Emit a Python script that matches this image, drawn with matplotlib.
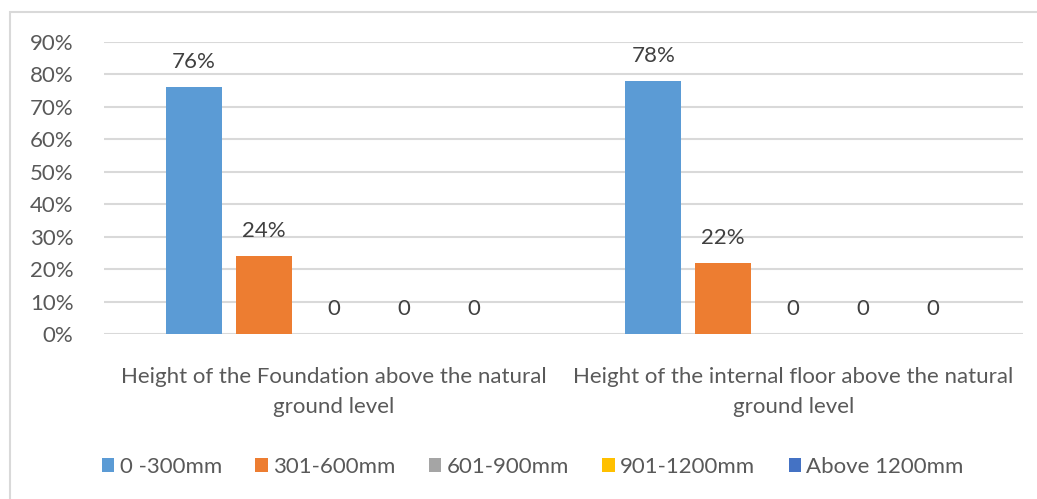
import numpy as np
import matplotlib.pyplot as plt
from matplotlib.patches import Rectangle
from matplotlib.ticker import PercentFormatter

categories = ['Height of the Foundation above the natural\nground level',
              'Height of the internal floor above the natural\nground level']
series = ['0 -300mm', '301-600mm', '601-900mm', '901-1200mm', 'Above 1200mm']
values = [
    [76, 78],
    [24, 22],
    [0, 0],
    [0, 0],
    [0, 0],
]
colors = ['#5B9BD5', '#ED7D31', '#A5A5A5', '#FFC000', '#4472C4']

plt.rcParams['font.family'] = ['Lato', 'DejaVu Sans']
fs = 16

fig = plt.figure(figsize=(10.37, 4.99), dpi=100)
W, H = 1037, 499
ax = fig.add_axes([104 / W, 1 - 334 / H, (1023 - 104) / W, (334 - 42) / H])

# chart border
fig.patches.append(Rectangle((9.5 / W, -0.1), 1.2, 1 - 12 / H + 0.1,
                             transform=fig.transFigure, fill=False,
                             edgecolor='#D9D9D9', linewidth=1.5))

x = np.arange(len(categories))
slot = 70 / 459.5
width = 56 / 459.5

for i, (name, vals) in enumerate(zip(series, values)):
    pos = x + (i - 2) * slot
    ax.bar(pos, vals, width, color=colors[i], label=name, zorder=3)
    for p, v in zip(pos, vals):
        label = '%d%%' % v if v > 0 else '0'
        ax.annotate(label, (p, v), xytext=(0, 18), textcoords='offset points',
                    ha='center', va='center', fontsize=fs, color='#404040')

ax.set_xlim(-0.5, 1.5)
ax.set_ylim(0, 90)
ax.set_yticks(np.arange(0, 91, 10))
ax.yaxis.set_major_formatter(PercentFormatter(decimals=0))
ax.set_xticks(x)
ax.set_xticklabels(categories, fontsize=fs, color='#595959', linespacing=1.6)
ax.tick_params(axis='x', length=0, pad=24)
ax.tick_params(axis='y', length=0, pad=22, labelsize=fs, labelcolor='#595959')
ax.grid(axis='y', color='#D9D9D9', linewidth=1.5, zorder=0)
for s in ax.spines.values():
    s.set_visible(False)

ax.legend(loc='center', bbox_to_anchor=(533 / W, 1 - 467 / H), bbox_transform=fig.transFigure,
          ncol=5, frameon=False, fontsize=fs, handlelength=0.55, handleheight=0.55,
          handletextpad=0.25, columnspacing=1.5, labelcolor='#595959')

fig.savefig('out.png', dpi=100)
